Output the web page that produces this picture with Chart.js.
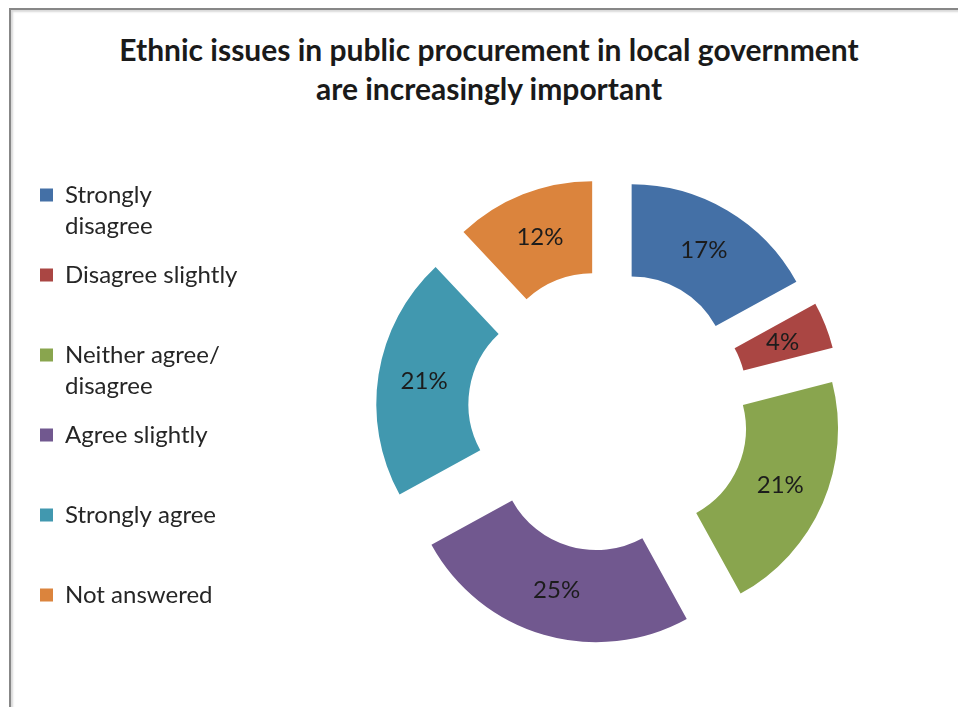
<!DOCTYPE html>
<html>
<head>
<meta charset="utf-8">
<title>Ethnic issues in public procurement</title>
<script src="https://cdn.jsdelivr.net/npm/chart.js@4.4.1/dist/chart.umd.min.js"></script>
<style>
  html, body { margin: 0; padding: 0; background: #fff; overflow: hidden; }
  #frame {
    position: absolute; left: 9px; top: 8px; width: 1000px; height: 760px;
    border-left: 2px solid #878787; border-top: 2px solid #878787;
    box-shadow: inset 2px 2px 2px #dadada;
  }
  #wrap { position: absolute; left: 0; top: 0; width: 972px; height: 707px; }
  #chartTitle {
    position: absolute; left: 0; top: 30px; width: 978px;
    text-align: center; font: bold 30px/39px Lato, sans-serif; color: #1a1a1a;
  }
</style>
</head>
<body>
<div id="frame"></div>
<div id="chartTitle"></div>
<div id="wrap"><canvas id="surveyChart" width="972" height="707"></canvas></div>
<script>
// Survey answers, percent of respondents
var categories = [
  ["Strongly", "disagree"],
  ["Disagree slightly"],
  ["Neither agree/", "disagree"],
  ["Agree slightly"],
  ["Strongly agree"],
  ["Not answered"]
];
var percentages = [17, 4, 21, 25, 21, 12];
var sliceColors = ["#4470a6", "#aa4643", "#89a54e", "#71588f", "#4198af", "#db843d"];

var titleLines = [
  "Ethnic issues in public procurement in local government",
  "are increasingly important"
];

document.getElementById("chartTitle").innerHTML = titleLines.join("<br>");

var EXPLODE = 45; // how far each slice is pulled out from the centre

// draw each slice shifted outwards along its middle angle
var explodePlugin = {
  id: "explode",
  beforeDatasetDraw: function (chart, args) {
    var ctx = chart.ctx;
    args.meta.data.forEach(function (arc) {
      var mid = (arc.startAngle + arc.endAngle) / 2;
      ctx.save();
      ctx.translate(Math.cos(mid) * EXPLODE, Math.sin(mid) * EXPLODE);
      arc.draw(ctx);
      ctx.restore();
    });
    return false;
  }
};

// percent labels in the middle of each ring segment
var sliceLabels = {
  id: "sliceLabels",
  afterDatasetsDraw: function (chart) {
    var ctx = chart.ctx;
    var meta = chart.getDatasetMeta(0);
    ctx.save();
    ctx.font = "24px Lato";
    ctx.fillStyle = "#1c1c1c";
    ctx.textAlign = "center";
    ctx.textBaseline = "middle";
    meta.data.forEach(function (arc, i) {
      var p = arc.getProps(["x", "y", "startAngle", "endAngle", "innerRadius", "outerRadius"], true);
      var mid = (p.startAngle + p.endAngle) / 2;
      var r = (p.innerRadius + p.outerRadius) / 2 + EXPLODE;
      ctx.fillText(percentages[i] + "%", p.x + Math.cos(mid) * r, p.y + Math.sin(mid) * r);
    });
    ctx.restore();
  }
};

var ctx = document.getElementById("surveyChart").getContext("2d");
var myChart = new Chart(ctx, {
  type: "doughnut",
  data: {
    labels: categories,
    datasets: [{
      data: percentages,
      backgroundColor: sliceColors,
      borderWidth: 0
    }]
  },
  options: {
    responsive: false,
    devicePixelRatio: 1,
    animation: false,
    radius: 188,
    cutout: "51%",
    layout: { padding: { left: 22, right: 2, top: 165, bottom: 50 } },
    plugins: {
      tooltip: { enabled: false },
      title: { display: false },
      legend: {
        position: "left",
        align: "start",
        fullSize: false,
        labels: {
          boxWidth: 13,
          boxHeight: 13,
          padding: 18,
          color: "#262626",
          font: { family: "Lato", size: 24, lineHeight: 31 / 24 },
          generateLabels: function (chart) {
            var items = Chart.DoughnutController.overrides.plugins.legend.labels.generateLabels(chart);
            items.forEach(function (item, i) {
              var lines = categories[i].slice();
              // keep every entry two lines tall so the rows stay evenly spaced
              if (lines.length < 2 && i < items.length - 1) lines.push("");
              item.text = lines;
              item.lineWidth = 0;
            });
            return items;
          }
        }
      }
    }
  },
  plugins: [explodePlugin, sliceLabels]
});
</script>
</body>
</html>
